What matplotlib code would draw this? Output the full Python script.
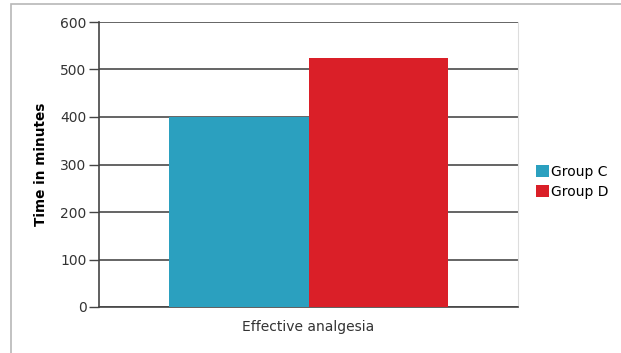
import matplotlib.pyplot as plt
from matplotlib.patches import Rectangle

categories = ["Effective analgesia"]
groups = ["Group C", "Group D"]
values = [400, 525]
colors = ["#2ba0bf", "#da1f28"]
yticks = [0, 100, 200, 300, 400, 500, 600]

plt.rcParams['font.family'] = ['DejaVu Sans']
FS = 10

fig = plt.figure(figsize=(6.21, 3.53), dpi=100)
ax = fig.add_axes([99 / 621, 1 - 307 / 353, 419 / 621, 285 / 353])

# outer frame around the whole chart
fig.patches.append(Rectangle((11 / 621, -0.1), 1.2, 1 - 4 / 353 + 0.1,
                             transform=fig.transFigure, fill=False,
                             edgecolor="#b8b8b8", linewidth=1.2))

w = 1 / 3
for i, (g, v, c) in enumerate(zip(groups, values, colors)):
    ax.bar(0 + (i - 0.5) * w, v, width=w, color=c, label=g, zorder=3)

ax.set_xlim(-0.5, 0.5)
ax.set_ylim(0, 600)
ax.set_yticks(yticks)
ax.set_xticks([0])
ax.set_xticklabels(categories, fontsize=FS, color="#333333")
ax.tick_params(axis="x", length=0, pad=9)
ax.tick_params(axis="y", length=7, width=1, color="#444444", labelsize=FS,
               labelcolor="#333333", pad=2)
ax.yaxis.grid(True, color="#4a4a4a", linewidth=1.2, zorder=0)
ax.set_axisbelow(True)

ax.spines["top"].set_visible(False)
ax.spines["right"].set_color("#dddddd")
ax.spines["left"].set_color("#444444")
ax.spines["left"].set_linewidth(1.2)
ax.spines["bottom"].set_color("#444444")
ax.spines["bottom"].set_linewidth(1.2)

ax.set_ylabel("Time in minutes", fontsize=9.8, fontweight="bold", labelpad=9)

ax.legend(loc="center left", bbox_to_anchor=(536 / 621, 1 - 182 / 353),
          bbox_transform=fig.transFigure, frameon=False,
          fontsize=FS, handlelength=0.95, handleheight=0.95, handletextpad=0.15,
          labelspacing=0.45, borderaxespad=0, borderpad=0)

fig.savefig("out.png", dpi=100)
